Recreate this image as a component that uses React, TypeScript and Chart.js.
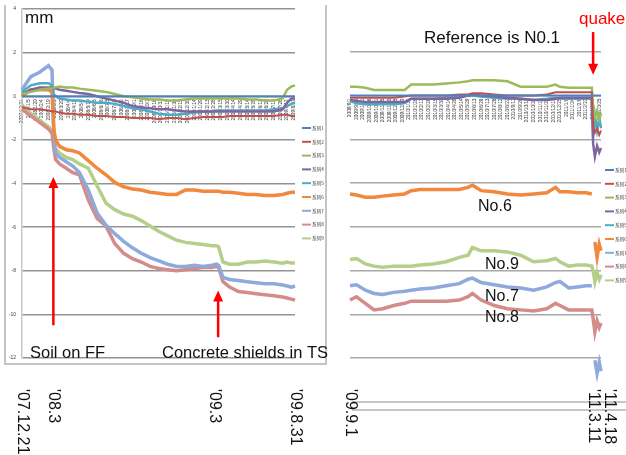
import React, { useEffect, useRef } from "react";
import { Chart, registerables } from "chart.js";

Chart.register(...registerables);

const FONT = "'Liberation Sans', Arial, sans-serif";
const CJK = "'Noto Sans CJK SC', sans-serif";

const seriesNames = ["系列1", "系列2", "系列3", "系列4", "系列5", "系列6", "系列7", "系列8", "系列9"];
const seriesColors = ["#4F81BD", "#C0504D", "#9BBB59", "#8064A2", "#4BACC6", "#F0883E", "#8EA9DB", "#D48C8A", "#B5CF8B"];
const seriesWidths = [2, 2, 2.5, 2.5, 2.5, 3.5, 3.5, 3.5, 3.5];

// Left panel: days since 2007-12-21
const leftStart = [2007, 11, 21];
const leftMaxDay = 618;
const leftDays = [0, 20, 40, 60, 68, 72, 76, 85, 100, 115, 130, 150, 170, 190, 210, 230, 250, 270, 290, 310, 330, 350, 370, 390, 410, 430, 440, 445, 455, 470, 490, 510, 530, 550, 570, 590, 600, 610, 618];
const leftNo1 = [0, 0, 0, 0, 0, 0, 0, 0, 0, 0, 0, 0, 0, 0, 0, 0, 0, 0, 0, 0, 0, 0, 0, 0, 0, 0, 0, 0, 0, 0, 0, 0, 0, 0, 0, 0, 0, 0, 0];
const leftNo2 = [-0.5, -0.6, -0.6, -0.65, -0.7, -0.7, -0.7, -0.75, -0.8, -0.8, -0.85, -0.85, -0.9, -0.9, -0.95, -0.95, -1.0, -1.0, -1.0, -1.05, -1.0, -1.0, -1.05, -1.0, -0.95, -0.95, -0.95, -0.95, -0.95, -0.9, -0.9, -0.9, -0.9, -0.9, -0.9, -0.85, -0.85, -0.9, -0.9];
const leftNo3 = [0.1, 0.2, 0.3, 0.35, 0.35, 0.4, 0.4, 0.45, 0.4, 0.4, 0.35, 0.3, 0.25, 0.2, 0.1, 0.0, -0.05, -0.1, -0.15, -0.15, -0.2, -0.2, -0.15, -0.1, -0.1, -0.1, -0.1, -0.1, -0.1, -0.1, -0.1, -0.15, -0.15, -0.2, -0.2, -0.1, 0.3, 0.45, 0.5];
const leftNo4 = [0.1, 0.3, 0.4, 0.4, 0.4, 0.35, 0.35, 0.3, 0.25, 0.2, 0.15, 0.1, 0.0, -0.1, -0.2, -0.3, -0.45, -0.5, -0.55, -0.6, -0.6, -0.65, -0.7, -0.7, -0.7, -0.7, -0.7, -0.7, -0.7, -0.7, -0.7, -0.7, -0.7, -0.7, -0.7, -0.6, -0.3, -0.1, -0.1];
const leftNo5 = [0.2, 0.5, 0.6, 0.6, 0.5, 0.1, 0.0, -0.1, -0.15, -0.2, -0.2, -0.25, -0.3, -0.3, -0.35, -0.45, -0.55, -0.6, -0.7, -0.8, -0.85, -0.85, -0.8, -0.75, -0.7, -0.7, -0.65, -0.65, -0.65, -0.65, -0.65, -0.65, -0.65, -0.65, -0.6, -0.55, -0.45, -0.35, -0.3];
const leftNo6 = [0.0, 0.3, 0.3, 0.3, 0.2, -1.5, -2.0, -2.3, -2.45, -2.5, -2.6, -2.95, -3.3, -3.6, -3.95, -4.15, -4.25, -4.3, -4.4, -4.45, -4.5, -4.5, -4.3, -4.3, -4.35, -4.35, -4.35, -4.35, -4.4, -4.4, -4.45, -4.5, -4.5, -4.55, -4.55, -4.5, -4.45, -4.4, -4.4];
const leftNo7 = [0.3, 0.9, 1.1, 1.4, 1.2, -1.8, -2.6, -2.8, -3.0, -3.2, -3.5, -4.3, -5.35, -5.9, -6.3, -6.65, -6.95, -7.2, -7.4, -7.55, -7.7, -7.8, -7.8, -7.75, -7.8, -7.75, -7.7, -7.75, -8.3, -8.4, -8.45, -8.5, -8.55, -8.6, -8.6, -8.65, -8.7, -8.75, -8.7];
const leftNo8 = [-0.6, -0.9, -1.2, -1.5, -1.7, -2.4, -2.9, -3.1, -3.3, -3.5, -3.6, -4.75, -5.6, -5.95, -6.75, -7.2, -7.45, -7.6, -7.8, -7.9, -7.95, -8.0, -7.95, -7.9, -7.85, -7.85, -7.8, -7.85, -8.5, -8.75, -8.95, -9.0, -9.05, -9.1, -9.15, -9.2, -9.25, -9.3, -9.35];
const leftNo9 = [-0.4, -0.8, -1.1, -1.4, -1.6, -2.1, -2.4, -2.6, -2.8, -2.9, -3.1, -3.3, -4.1, -4.9, -5.2, -5.4, -5.5, -5.7, -5.95, -6.2, -6.4, -6.6, -6.7, -6.75, -6.8, -6.85, -6.85, -6.9, -7.6, -7.7, -7.7, -7.6, -7.6, -7.55, -7.6, -7.65, -7.6, -7.65, -7.65];

// Right panel: days since 2009-09-01
const rightStart = [2009, 8, 1];
const rightMaxDay = 574;
const rightDays = [0, 15, 35, 55, 75, 100, 125, 140, 160, 190, 220, 250, 270, 280, 300, 330, 360, 390, 420, 450, 470, 480, 500, 520, 540, 553, 556, 560, 565, 570, 574];
const rightNo1 = [0, 0, 0, 0, 0, 0, 0, 0, 0, 0, 0, 0, 0, 0, 0, 0, 0, 0, 0, 0, 0, 0, 0, 0, 0, 0, 0, 0, 0, 0, 0];
const rightNo2 = [-0.1, -0.1, -0.1, -0.1, -0.1, -0.1, -0.05, 0, 0, 0, 0, 0.05, 0.05, 0.1, 0.1, 0.05, 0, 0, 0, 0.05, 0.15, 0.15, 0.15, 0.15, 0.15, 0.15, -1.4, -1.7, -1.5, -1.8, -1.6];
const rightNo3 = [0.4, 0.4, 0.35, 0.25, 0.25, 0.25, 0.25, 0.5, 0.5, 0.5, 0.55, 0.6, 0.65, 0.7, 0.7, 0.7, 0.65, 0.4, 0.4, 0.4, 0.5, 0.4, 0.35, 0.35, 0.35, 0.35, -0.6, -1.0, -0.7, -1.1, -0.8];
const rightNo4 = [-0.2, -0.25, -0.3, -0.3, -0.3, -0.3, -0.3, -0.15, -0.15, -0.15, -0.15, -0.1, 0, 0.05, 0, -0.05, -0.1, -0.15, -0.2, -0.2, -0.15, -0.1, -0.1, -0.1, -0.1, -0.1, -2.2, -2.8, -2.3, -2.6, -2.4];
const rightNo5 = [-0.25, -0.35, -0.4, -0.4, -0.4, -0.4, -0.35, -0.15, -0.15, -0.15, -0.1, -0.05, 0, 0, -0.05, -0.1, -0.15, -0.15, -0.2, -0.15, -0.1, -0.15, -0.15, -0.15, -0.15, -0.15, -1.9, -0.9, -1.6, -1.0, -1.5];
const rightNo6 = [-4.5, -4.55, -4.65, -4.65, -4.6, -4.55, -4.5, -4.35, -4.3, -4.3, -4.3, -4.3, -4.2, -4.1, -4.35, -4.4, -4.5, -4.55, -4.5, -4.45, -4.2, -4.4, -4.4, -4.45, -4.45, -4.5, null, -6.7, -7.4, -6.8, -7.1];
const rightNo7 = [-8.7, -8.65, -8.9, -9.05, -9.1, -9.0, -8.95, -8.9, -8.85, -8.8, -8.7, -8.6, -8.4, -8.35, -8.55, -8.65, -8.75, -8.8, -8.9, -8.75, -8.55, -8.5, -8.8, -8.75, -8.7, -8.7, null, -12.1, -12.7, -12.2, -12.6];
const rightNo8 = [-9.35, -9.2, -9.5, -9.8, -9.75, -9.6, -9.5, -9.4, -9.4, -9.4, -9.4, -9.35, -9.2, -9.05, -9.35, -9.6, -9.75, -9.8, -9.85, -9.75, -9.5, -9.6, -9.8, -9.8, -9.8, -9.8, -10.2, -10.8, -10.3, -10.6, -10.4];
const rightNo9 = [-7.5, -7.45, -7.7, -7.8, -7.85, -7.8, -7.8, -7.8, -7.75, -7.7, -7.6, -7.4, -7.3, -6.95, -7.1, -7.1, -7.15, -7.3, -7.6, -7.55, -7.45, -7.6, -7.8, -7.75, -7.75, -7.8, -8.0, -8.5, -8.1, -8.4, -8.2];

const leftSeries = [leftNo1, leftNo2, leftNo3, leftNo4, leftNo5, leftNo6, leftNo7, leftNo8, leftNo9];
const rightSeries = [rightNo1, rightNo2, rightNo3, rightNo4, rightNo5, rightNo6, rightNo7, rightNo8, rightNo9];

const leftTickDays = [0, 71, 435, 618];
const leftTickLabels = ["'07.12.21", "'08.3", "'09.3", "'09.8.31"];
const rightTickDays = [0, 556, 594];
const rightTickLabels = ["'09.9.1", "'11.3.11", "'11.4.18"];

const yMin = -12;
const yMax = 4;
const yStep = 2;

function fmtDate(start: number[], day: number) {
  const d = new Date(start[0], start[1], start[2] + day);
  return `${d.getFullYear()}/${d.getMonth() + 1}/${d.getDate()}`;
}

function buildDatasets(days: number[], series: (number | null)[][]) {
  return series.map((vals, i) => ({
    label: seriesNames[i],
    data: days.map((d, j) => ({ x: d, y: vals[j] })),
    borderColor: seriesColors[i],
    backgroundColor: seriesColors[i],
    borderWidth: seriesWidths[i],
    pointRadius: 0,
    fill: false,
    tension: 0,
    clip: false,
  }));
}

function makeOptions(panel: string, maxDay: number, start: number[]): any {
  const isLeft = panel === "left";
  return {
    responsive: false,
    animation: false,
    events: [],
    layout: {
      padding: isLeft ? { left: 4, right: 35, top: 8, bottom: 97 } : { left: 24, right: 25, top: 8, bottom: 97 },
    },
    plugins: { legend: { display: false }, tooltip: { enabled: false }, title: { display: false } },
    scales: {
      x: {
        type: "linear",
        min: 0,
        max: maxDay,
        position: { y: 0 },
        z: 1,
        grid: { display: false, drawTicks: false },
        border: { display: false },
        ticks: {
          stepSize: 15,
          autoSkip: false,
          includeBounds: false,
          minRotation: 90,
          maxRotation: 90,
          padding: 3,
          color: "#333",
          font: { size: 4.8, family: FONT },
          callback: (v: any) => fmtDate(start, Number(v)),
        },
      },
      y: {
        type: "linear",
        min: yMin,
        max: yMax,
        afterFit: (s: any) => {
          s.width = isLeft ? 18 : 0;
        },
        grid: {
          drawTicks: false,
          lineWidth: 1.5,
          color: (c: any) => (!isLeft && c.tick && c.tick.value === yMax ? "rgba(0,0,0,0)" : isLeft ? "#939393" : "#a8a8a8"),
        },
        border: isLeft ? { display: true, color: "#c8c8c8", width: 1.5 } : { display: false },
        ticks: {
          display: isLeft,
          stepSize: yStep,
          padding: 6,
          color: "#444",
          font: { size: 5, family: FONT },
        },
      },
    },
  };
}

function drawArrow(ctx: CanvasRenderingContext2D, x: number, yFrom: number, yTo: number) {
  const dir = Math.sign(yTo - yFrom);
  ctx.save();
  ctx.strokeStyle = "#FF0000";
  ctx.fillStyle = "#FF0000";
  ctx.lineWidth = 2.5;
  ctx.beginPath();
  ctx.moveTo(x, yFrom);
  ctx.lineTo(x, yTo - dir * 8);
  ctx.stroke();
  ctx.beginPath();
  ctx.moveTo(x, yTo);
  ctx.lineTo(x - 5, yTo - dir * 11);
  ctx.lineTo(x + 5, yTo - dir * 11);
  ctx.closePath();
  ctx.fill();
  ctx.restore();
}

function drawLegend(ctx: CanvasRenderingContext2D, x: number, y0: number) {
  ctx.save();
  ctx.font = `4.6px ${CJK}`;
  ctx.textAlign = "left";
  ctx.textBaseline = "middle";
  seriesNames.forEach((name, i) => {
    const y = y0 + i * 13.8;
    ctx.strokeStyle = seriesColors[i];
    ctx.lineWidth = 2;
    ctx.beginPath();
    ctx.moveTo(x, y);
    ctx.lineTo(x + 9, y);
    ctx.stroke();
    ctx.fillStyle = "#333";
    ctx.fillText(name, x + 10, y);
  });
  ctx.restore();
}

function drawDateLabels(ctx: CanvasRenderingContext2D, xs: any, days: number[], labels: string[]) {
  ctx.save();
  ctx.fillStyle = "#111";
  ctx.font = `16px ${FONT}`;
  ctx.textAlign = "left";
  ctx.textBaseline = "middle";
  days.forEach((d, i) => {
    const x = xs.getPixelForValue(d);
    ctx.save();
    ctx.translate(x, 389);
    ctx.rotate(Math.PI / 2);
    ctx.fillText(labels[i], 0, 0);
    ctx.restore();
  });
  ctx.restore();
}

const leftPlugin = {
  id: "leftDecor",
  afterDraw(chart: any) {
    const ctx: CanvasRenderingContext2D = chart.ctx;
    const xs = chart.scales.x;
    const ys = chart.scales.y;
    ctx.save();
    ctx.strokeStyle = "#c4c4c4";
    ctx.lineWidth = 2;
    ctx.beginPath();
    ctx.moveTo(5, 5);
    ctx.lineTo(5, 364);
    ctx.lineTo(326, 364);
    ctx.lineTo(326, 5);
    ctx.stroke();
    ctx.fillStyle = "#111";
    ctx.textAlign = "left";
    ctx.textBaseline = "alphabetic";
    ctx.font = `17px ${FONT}`;
    ctx.fillText("mm", 25, 23);
    ctx.font = `16.5px ${FONT}`;
    ctx.fillText("Soil on FF", 30, 358);
    ctx.fillText("Concrete shields in TS", 162, 358);
    ctx.restore();
    drawArrow(ctx, xs.getPixelForValue(71), ys.getPixelForValue(-10.5), ys.getPixelForValue(-3.7));
    drawArrow(ctx, xs.getPixelForValue(444), ys.getPixelForValue(-11.05), ys.getPixelForValue(-8.9));
    drawLegend(ctx, 302, 128);
    drawDateLabels(ctx, xs, leftTickDays, leftTickLabels);
  },
};

const rightPlugin = {
  id: "rightDecor",
  afterDraw(chart: any) {
    const ctx: CanvasRenderingContext2D = chart.ctx;
    const xs = chart.scales.x;
    const ys = chart.scales.y;
    ctx.save();
    ctx.strokeStyle = "#b4b4b4";
    ctx.lineWidth = 1.5;
    ctx.beginPath();
    ctx.moveTo(26, 402);
    ctx.lineTo(300, 402);
    ctx.moveTo(26, 410);
    ctx.lineTo(300, 410);
    ctx.stroke();
    ctx.fillStyle = "#111";
    ctx.textAlign = "left";
    ctx.textBaseline = "alphabetic";
    ctx.font = `17px ${FONT}`;
    ctx.fillText("Reference is N0.1", 98, 43);
    ctx.font = `16px ${FONT}`;
    ctx.fillText("No.6", 152, 211);
    ctx.fillText("No.9", 159, 269);
    ctx.fillText("No.7", 159, 301);
    ctx.fillText("No.8", 159, 322);
    ctx.fillStyle = "#FF0000";
    ctx.font = `17px ${FONT}`;
    ctx.fillText("quake", 253, 24);
    ctx.restore();
    drawArrow(ctx, xs.getPixelForValue(556), ys.getPixelForValue(2.9), ys.getPixelForValue(0.95));
    drawLegend(ctx, 279, 170);
    drawDateLabels(ctx, xs, rightTickDays, rightTickLabels);
  },
};

export default function App() {
  const leftRef = useRef<HTMLCanvasElement>(null);
  const rightRef = useRef<HTMLCanvasElement>(null);

  useEffect(() => {
    document.body.style.margin = "0";
    document.body.style.background = "#fff";
    const left = new Chart(leftRef.current as HTMLCanvasElement, {
      type: "line",
      data: { datasets: buildDatasets(leftDays, leftSeries) as any },
      options: makeOptions("left", leftMaxDay, leftStart),
      plugins: [leftPlugin],
    });
    const right = new Chart(rightRef.current as HTMLCanvasElement, {
      type: "line",
      data: { datasets: buildDatasets(rightDays, rightSeries) as any },
      options: makeOptions("right", rightMaxDay, rightStart),
      plugins: [rightPlugin],
    });
    return () => {
      left.destroy();
      right.destroy();
    };
  }, []);

  return (
    <div style={{ position: "relative", width: 626, height: 455, overflow: "hidden", background: "#fff" }}>
      <canvas ref={leftRef} width={330} height={455} style={{ position: "absolute", left: 0, top: 0 }} />
      <canvas ref={rightRef} width={300} height={455} style={{ position: "absolute", left: 326, top: 0 }} />
    </div>
  );
}
